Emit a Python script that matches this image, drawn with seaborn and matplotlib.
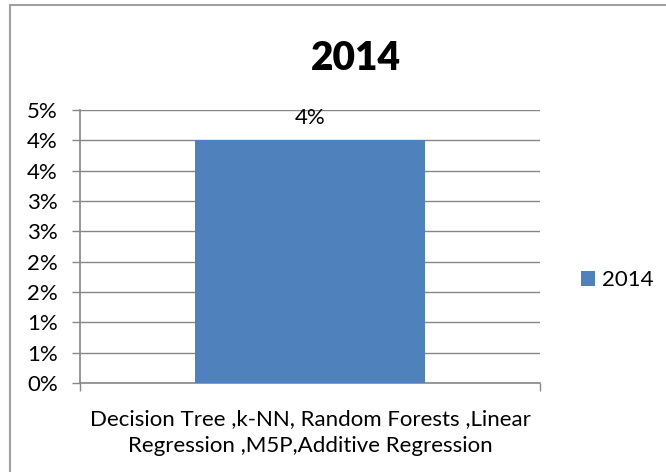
import matplotlib
matplotlib.use("Agg")
import matplotlib.pyplot as plt
import seaborn as sns
import pandas as pd
from matplotlib.ticker import FuncFormatter, MultipleLocator
from matplotlib.lines import Line2D
from matplotlib.patches import Patch

title = "2014"
categories = ["Decision Tree ,k-NN, Random Forests ,Linear\nRegression ,M5P,Additive Regression"]
values = [0.04]
series_name = "2014"
value_labels = ["4%"]

sns.set_theme(style="white")
plt.rcParams['font.family'] = ['Lato', 'DejaVu Sans']
plt.rcParams['text.color'] = 'black'

df = pd.DataFrame({"cat": categories, "val": values})

fig = plt.figure(figsize=(6.66, 4.72), dpi=100)
ax = fig.add_axes([80/666, 1-383/472, 460/666, (383-110)/472])

bar_color = "#4F81BD"
grid_color = "#868686"
fs = 16

sns.barplot(data=df, x="cat", y="val", color=bar_color, width=0.5, ax=ax,
            saturation=1, edgecolor="none", zorder=3)
ax.set_xlim(-0.5, 0.5)
ax.set_ylim(0, 0.045)
ax.yaxis.set_major_locator(MultipleLocator(0.005))
ax.yaxis.set_major_formatter(FuncFormatter(lambda v, p: f"{int(v*100 + 0.5 + 1e-9)}%"))
ax.grid(axis="y", color=grid_color, linewidth=1, zorder=0)
ax.set_axisbelow(True)
for s in ["top", "right"]:
    ax.spines[s].set_visible(False)
for s in ["left", "bottom"]:
    ax.spines[s].set_color(grid_color)
    ax.spines[s].set_linewidth(1.2)
ax.tick_params(axis="y", which="major", left=True, length=6, width=1, color=grid_color,
               labelsize=fs, labelcolor="black", pad=10)
ax.tick_params(axis="x", which="major", bottom=False, labelsize=fs, labelcolor="black", pad=12.5)
ax.set_xticks([-0.5, 0.5], minor=True)
ax.tick_params(axis="x", which="minor", bottom=True, length=6, width=1, color=grid_color)
ax.set_xlabel("")
ax.set_ylabel("")
for lbl in ax.get_xticklabels():
    lbl.set_linespacing(1.45)
    lbl.set_ha("center")

for cont in ax.containers:
    ax.bar_label(cont, labels=value_labels, padding=9, fontsize=fs, color="black")

fig.text(356/666, 1-59/472, title, ha="center", va="center", fontsize=28,
         fontweight="heavy", color="black")

handles = [Patch(facecolor=bar_color, edgecolor="none", label=series_name)]
fig.legend(handles=handles, loc="center left", bbox_to_anchor=(572/666, 1-280/472),
           frameon=False, fontsize=fs, handlelength=0.65, handleheight=0.65,
           handletextpad=0.3, borderaxespad=0, labelcolor="black")

# chart frame (left and top edges visible)
fig.add_artist(Line2D([10/666, 10/666], [0, 1-5/472], color="#A0A0A0", linewidth=1.5,
                      transform=fig.transFigure))
fig.add_artist(Line2D([10/666, 1], [1-5/472, 1-5/472], color="#A0A0A0", linewidth=1.5,
                      transform=fig.transFigure))

fig.savefig("out.png", dpi=100)
